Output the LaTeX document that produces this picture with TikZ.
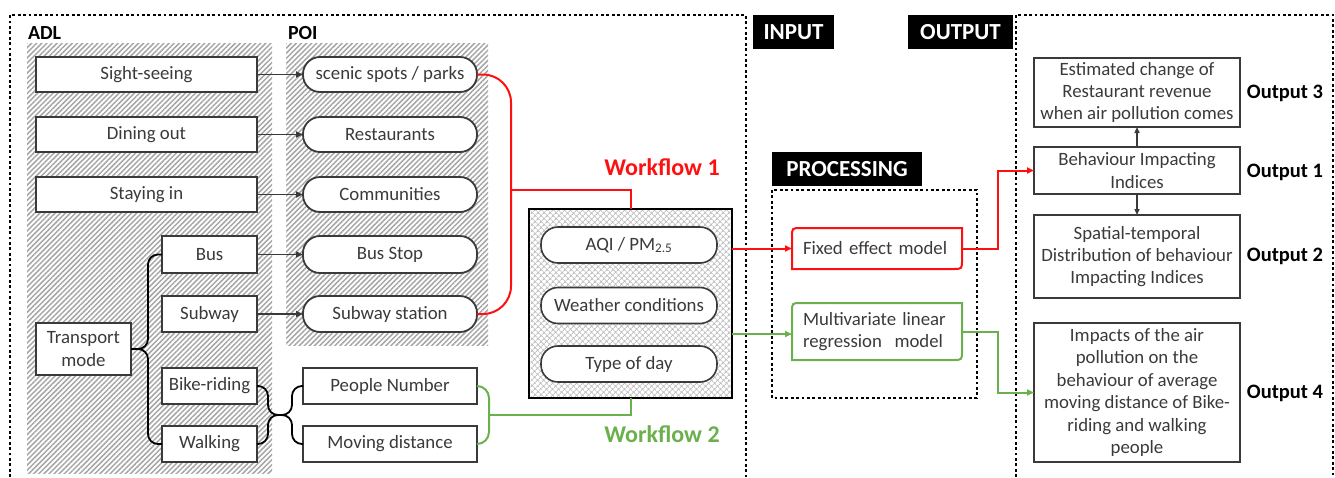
\documentclass[tikz,border=0pt]{standalone}
\usepackage{fontspec}
\setmainfont{Carlito}
\usetikzlibrary{arrows.meta,patterns.meta,calc}
\definecolor{txt}{HTML}{3A3A3A}
\definecolor{wfred}{HTML}{FF1010}
\definecolor{wfgreen}{HTML}{6AB04C}
\begin{document}
\begin{tikzpicture}[x=1pt,y=-1pt,
  every node/.style={inner sep=0pt,outer sep=0pt,font=\fontsize{18.8}{22.4}\selectfont,text=txt},
  box/.style={draw=txt,line width=1.8pt,fill=white,minimum height=#1,align=center},
  box/.default=35pt,
  pill/.style={draw=txt,line width=1.8pt,fill=white,rounded corners=17pt,minimum width=174pt,minimum height=35pt},
  inpill/.style={draw=txt,line width=1.6pt,fill=white,rounded corners=17pt,minimum width=176pt,minimum height=36pt},
  head/.style={font=\bfseries\fontsize{20}{24}\selectfont,text=black},
  tag/.style={fill=black,font=\bfseries\fontsize{23}{26}\selectfont,text=white,anchor=north west},
  frame/.style={line width=2.8pt,dash pattern=on 2.8pt off 2.6pt,black},
  hatch/.style={pattern={Lines[angle=45,distance=3.6pt,line width=1.5pt]},pattern color=gray!70},
  link/.style={draw=txt,line width=1.6pt,-{Triangle[length=7pt,width=6pt]}},
  brace/.style={draw=black,line width=1.8pt,rounded corners=10pt},
  wf/.style={line width=2pt,rounded corners=#1},
  wf/.default=0pt,
  model/.style={minimum width=170pt,align=left,text width=148pt},
  outbox/.style={draw=txt,line width=1.8pt,minimum width=206pt,minimum height=#1,align=center},
  outlab/.style={font=\bfseries\fontsize{20.5}{24}\selectfont,text=black}
]
\useasboundingbox (0,0) rectangle (1335,477);

% frames
\draw[frame] (10,477) -- (10,15) -- (746,15) -- (746,477);
\draw[frame] (1016,477) -- (1016,15) -- (1333,15) -- (1333,477);

% hatched backgrounds
\fill[hatch] (27,43) rectangle (272,473);
\fill[hatch] (286,43) rectangle (488,345);

\node[head,anchor=west] (adl) at (28,33) {ADL};
\node[head,anchor=west] (poi) at (288,33) {POI};

% ADL activities
\node[box,minimum width=221pt] (sight) at (146.5,74.5) {Sight-seeing};
\node[box,minimum width=221pt] (dining) at (146.5,134.5) {Dining out};
\node[box,minimum width=221pt] (staying) at (146.5,194.5) {Staying in};
\node[box=37pt,minimum width=95pt] (bus) at (209.5,254.5) {Bus};
\node[box=36pt,minimum width=95pt] (subway) at (209.5,314) {Subway};
\node[box=52pt,minimum width=95pt] (transport) at (83.5,349) {Transport\\mode};
\node[box=36pt,minimum width=95pt] (bike) at (209.5,386) {Bike-riding};
\node[box=36pt,minimum width=95pt] (walking) at (209.5,444) {Walking};

% POI
\node[pill] (scenic) at (390,74.5) {scenic spots / parks};
\node[pill] (restaurants) at (390,134.5) {Restaurants};
\node[pill] (communities) at (390,194.5) {Communities};
\node[pill,minimum height=37pt] (busstop) at (390,254.5) {Bus Stop};
\node[pill,minimum height=36pt] (subwaystation) at (390,314) {Subway station};
\node[box=36pt,minimum width=174pt] (people) at (390,386) {People Number};
\node[box=36pt,minimum width=174pt] (moving) at (390,444) {Moving distance};

\draw[link] (sight) -- (scenic);
\draw[link] (dining) -- (restaurants);
\draw[link] (staying) -- (communities);
\draw[link] (bus) -- (busstop);
\draw[link] (subway) -- (subwaystation);

% braces
\draw[brace] (bus.west) -- (148,254.5) -- (148,349) -- (transport.east);
\draw[brace] (transport.east) -- (148,349) -- (148,444) -- (walking.west);
\coordinate (mid) at (280,415);
\draw[brace] (bike.east) -- (268,386) -- (268,415) -- (mid);
\draw[brace] (walking.east) -- (268,444) -- (268,415) -- (mid);
\draw[brace] (mid) -- (292,415) -- (292,386) -- (people.west);
\draw[brace] (mid) -- (292,415) -- (292,444) -- (moving.west);

% input box
\node[draw=black,line width=2.6pt,fill=white,minimum width=203pt,minimum height=189pt] (inbox) at (630.5,303.5) {};
\fill[pattern={Hatch[angle=45,distance=4pt,line width=0.9pt]},pattern color=gray!50] (530.5,210.5) rectangle (730.5,396.5);
\node[inpill] (aqi) at (629,245) {AQI / PM\textsubscript{2.5}};
\node[inpill] (weather) at (629,305.5) {Weather conditions};
\node[inpill] (typeday) at (629,364) {Type of day};

% workflow 1
\coordinate (rtrunk) at (511,190);
\draw[wfred,wf=28pt] (scenic.east) -- (511,74.5) -- (511,314) -- (subwaystation.east);
\draw[wfred,wf] (rtrunk) -- (inbox.north |- rtrunk) -- (inbox.north);
\node[font=\bfseries\fontsize{24}{28}\selectfont,text=wfred] (wf1) at (662,167) {Workflow 1};

% workflow 2
\coordinate (gtrunk) at (489,415);
\draw[wfgreen,wf=12pt] (people.east) -- (489,386) -- (489,444) -- (moving.east);
\draw[wfgreen,wf] (gtrunk) -- (inbox.south |- gtrunk) -- (inbox.south);
\node[font=\bfseries\fontsize{24}{28}\selectfont,text=wfgreen] (wf2) at (662,434) {Workflow 2};

% section tags
\node[tag,minimum width=81pt,minimum height=34pt] (input) at (753,15) {INPUT};
\node[tag,minimum width=105pt,minimum height=34pt] (output) at (908,15) {OUTPUT};
\node[tag,minimum width=150pt,minimum height=34pt] (proc) at (772,152) {PROCESSING};
\draw[frame] (772,190) rectangle (977,398);

% models
\node[model,minimum height=41pt] (fixed) at (877,248.5) {Fixed effect model};
\draw[wfred,line width=2pt] (fixed.south west) -- (792,237) .. controls (792,228) .. (801,228)
  -- (fixed.north east) -- (962,260) .. controls (962,269) .. (953,269) -- cycle;
\node[model,minimum height=57pt] (multi) at (877,331.5) {Multivariate linear\\regression~~model};
\draw[wfgreen,line width=2pt] (multi.south west) -- (792,312) .. controls (792,303) .. (801,303)
  -- (multi.north east) -- (962,351) .. controls (962,360) .. (953,360) -- cycle;

\draw[wfred,line width=2pt,-{Triangle[length=7pt,width=6pt]}] (inbox.east |- fixed) -- (fixed.west);
\draw[wfgreen,line width=2pt,-{Triangle[length=7pt,width=6pt]}] (inbox.east |- 0,334) -- (fixed.west |- 0,334);

% outputs
\node[outbox=69pt] (out3) at (1137,92.5) {Estimated change of\\Restaurant revenue\\when air pollution comes};
\node[outbox=47pt] (out1) at (1137,170.5) {Behaviour Impacting\\Indices};
\node[outbox=83pt] (out2) at (1137,256.5) {Spatial-temporal\\Distribution of behaviour\\Impacting Indices};
\node[outbox=139pt] (out4) at (1137,392.5) {Impacts of the air\\pollution on the\\behaviour of average\\moving distance of Bike-\\riding and walking\\people};

\node[outlab] (l3) at (1285,93) {Output 3};
\node[outlab] (l1) at (1285,172) {Output 1};
\node[outlab] (l2) at (1285,256) {Output 2};
\node[outlab] (l4) at (1285,393) {Output 4};

\draw[link,line width=1.4pt,-{Triangle[length=6pt,width=5pt]}] (out1) -- (out3);
\draw[link,line width=1.4pt,-{Triangle[length=6pt,width=5pt]}] (out1) -- (out2);

\draw[wfred,line width=2pt,-{Triangle[length=7pt,width=6pt]}] (fixed.east) -- (998,248.5) -- (998,170.5) -- (out1.west);
\draw[wfgreen,line width=2pt,-{Triangle[length=7pt,width=6pt]}] (multi.east |- 0,332) -- (998,332) -- (998,392.5) -- (out4.west);
\end{tikzpicture}
\end{document}
